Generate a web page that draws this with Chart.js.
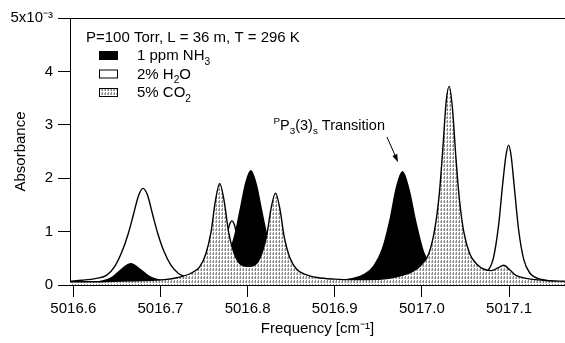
<!DOCTYPE html>
<html>
<head>
<meta charset="utf-8">
<script src="https://cdn.jsdelivr.net/npm/chart.js@4.4.0/dist/chart.umd.min.js"></script>
<style>
  body { margin: 0; background: #fff; }
</style>
</head>
<body>
<canvas id="spectrum" width="565" height="343"></canvas>
<script>
// absorbance in units of 1e-3, frequency in cm-1
var nh3Freq = [5016.596, 5016.620, 5016.635, 5016.645, 5016.655, 5016.666, 5016.677, 5016.687, 5016.697, 5016.710,
  5016.730, 5016.750, 5016.765, 5016.775, 5016.785, 5016.792, 5016.798, 5016.8037, 5016.810, 5016.816,
  5016.823, 5016.832, 5016.845, 5016.860, 5016.880, 5016.900, 5016.920, 5016.935, 5016.945, 5016.955,
  5016.963, 5016.971, 5016.9777, 5016.985, 5016.993, 5017.002, 5017.012, 5017.025, 5017.040, 5017.060,
  5017.085, 5017.110, 5017.164];
var nh3Abs = [0.02, 0.04, 0.08, 0.15, 0.29, 0.40, 0.29, 0.16, 0.10, 0.07,
  0.07, 0.13, 0.25, 0.46, 0.91, 1.45, 1.92, 2.14, 1.88, 1.40,
  0.87, 0.48, 0.22, 0.12, 0.08, 0.08, 0.12, 0.21, 0.36, 0.69,
  1.19, 1.84, 2.12, 1.80, 1.18, 0.61, 0.32, 0.16, 0.09, 0.05,
  0.03, 0.02, 0.01];

var h2oFreq = [5016.596, 5016.610, 5016.625, 5016.638, 5016.648, 5016.656, 5016.663, 5016.669, 5016.675, 5016.680,
  5016.685, 5016.691, 5016.697, 5016.704, 5016.712, 5016.721, 5016.731, 5016.742, 5016.752, 5016.760,
  5016.767, 5016.772, 5016.776, 5016.779, 5016.782, 5016.785, 5016.788, 5016.792, 5016.797, 5016.804,
  5016.815, 5016.830, 5016.850, 5016.880, 5016.920, 5016.960, 5017.000, 5017.030, 5017.050, 5017.065,
  5017.075, 5017.082, 5017.088, 5017.093, 5017.0965, 5017.0994, 5017.1023, 5017.106, 5017.111, 5017.117,
  5017.124, 5017.132, 5017.142, 5017.164];
var h2oAbs = [0.07, 0.09, 0.12, 0.18, 0.36, 0.63, 0.96, 1.32, 1.68, 1.81,
  1.69, 1.32, 0.96, 0.63, 0.37, 0.21, 0.15, 0.14, 0.15, 0.19,
  0.34, 0.60, 0.91, 1.12, 1.20, 1.12, 0.90, 0.59, 0.33, 0.17,
  0.10, 0.07, 0.06, 0.05, 0.05, 0.05, 0.05, 0.07, 0.09, 0.14,
  0.25, 0.50, 1.12, 1.94, 2.43, 2.62, 2.43, 1.84, 1.03, 0.47,
  0.22, 0.13, 0.09, 0.05];

var co2Freq = [5016.596, 5016.620, 5016.645, 5016.670, 5016.690, 5016.705, 5016.720, 5016.735, 5016.745, 5016.752,
  5016.758, 5016.763, 5016.768, 5016.773, 5016.778, 5016.783, 5016.790, 5016.800, 5016.810, 5016.817,
  5016.822, 5016.827, 5016.832, 5016.837, 5016.842, 5016.848, 5016.856, 5016.866, 5016.880, 5016.900,
  5016.920, 5016.940, 5016.960, 5016.975, 5016.990, 5017.000, 5017.008, 5017.015, 5017.020, 5017.024,
  5017.028, 5017.0313, 5017.035, 5017.039, 5017.043, 5017.048, 5017.055, 5017.063, 5017.072, 5017.080,
  5017.087, 5017.094, 5017.101, 5017.108, 5017.118, 5017.130, 5017.145, 5017.164];
var co2Abs = [0.06, 0.06, 0.07, 0.08, 0.09, 0.10, 0.14, 0.22, 0.34, 0.58,
  0.99, 1.57, 1.90, 1.58, 1.01, 0.67, 0.42, 0.35, 0.40, 0.62,
  0.93, 1.44, 1.72, 1.43, 0.90, 0.53, 0.30, 0.20, 0.14, 0.11,
  0.10, 0.10, 0.12, 0.17, 0.26, 0.39, 0.59, 1.07, 1.71, 2.55,
  3.46, 3.72, 3.32, 2.39, 1.61, 1.00, 0.58, 0.39, 0.29, 0.27,
  0.32, 0.37, 0.28, 0.18, 0.13, 0.10, 0.08, 0.07];

var xTicks = [5016.6, 5016.7, 5016.8, 5016.9, 5017.0, 5017.1];
var yTicks = [0, 1, 2, 3, 4, 5];

var conditions = 'P=100 Torr, L = 36 m, T = 296 K';
var legendParts = [
  [['1 ppm NH', ''], ['3', 'sub']],
  [['2% H', ''], ['2', 'sub'], ['O', '']],
  [['5% CO', ''], ['2', 'sub']]
];
var noteParts = [['P', 'sup'], ['P', ''], ['3', 'sub'], ['(3)', ''], ['s', 'sub'], [' Transition', '']];
var noteAt = [5016.9576, 2.90];
var arrowFrom = [5016.960, 2.77];
var arrowTo = [5016.9726, 2.30];

var FONT = '"Liberation Sans", Arial, sans-serif';
var canvas = document.getElementById('spectrum');

// gray vertical hatching used for the CO2 area
function stipple() {
  var c = document.createElement('canvas');
  c.width = 3; c.height = 4;
  var g = c.getContext('2d');
  g.fillStyle = '#fff'; g.fillRect(0, 0, 3, 4);
  g.fillStyle = '#8a8a8a'; g.fillRect(0, 0, 1, 3);
  g.fillStyle = '#bbbbbb'; g.fillRect(2, 1, 1, 2);
  return canvas.getContext('2d').createPattern(c, 'repeat');
}

function toPoints(xs, ys) {
  return xs.map(function(x, i) { return {x: x, y: ys[i]}; });
}

function richWidth(ctx, parts, size) {
  var w = 0;
  parts.forEach(function(p) {
    ctx.font = (p[1] ? size * 0.68 : size) + 'px ' + FONT;
    w += ctx.measureText(p[0]).width;
  });
  return w;
}

function drawRich(ctx, parts, x, y, size) {
  parts.forEach(function(p) {
    ctx.font = (p[1] ? size * 0.68 : size) + 'px ' + FONT;
    var dy = p[1] === 'sub' ? size * 0.3 : p[1] === 'sup' ? -size * 0.42 : 0;
    ctx.fillText(p[0], x, y + dy);
    x += ctx.measureText(p[0]).width;
  });
}

var co2Fill = stipple();

var overlay = {
  id: 'overlay',
  afterDraw: function(chart) {
    var ctx = chart.ctx, a = chart.chartArea;
    var sx = chart.scales.x, sy = chart.scales.y;
    ctx.save();
    ctx.strokeStyle = '#000';
    ctx.lineWidth = 1;
    // top edge of the frame
    ctx.beginPath();
    ctx.moveTo(a.left, a.top + 0.5);
    ctx.lineTo(a.right, a.top + 0.5);
    ctx.stroke();

    // legend
    ctx.fillStyle = '#000';
    ctx.textBaseline = 'alphabetic';
    drawRich(ctx, [[conditions, '']], a.left + 16, a.top + 24, 15);
    legendParts.forEach(function(parts, i) {
      var yb = a.top + 42 + i * 18.5;
      var ds = chart.data.datasets[i];
      var x0 = a.left + 29, y0 = yb - 9;
      ctx.fillStyle = ds.backgroundColor;
      ctx.fillRect(x0, y0, 19, 9);
      ctx.strokeRect(x0 + 0.5, y0 + 0.5, 18, 8);
      ctx.fillStyle = '#000';
      drawRich(ctx, parts, a.left + 67, yb, 15);
    });

    // transition label and arrow
    var tx = sx.getPixelForValue(noteAt[0]), ty = sy.getPixelForValue(noteAt[1]);
    drawRich(ctx, noteParts, tx - richWidth(ctx, noteParts, 14.5), ty, 14.5);
    var x1 = sx.getPixelForValue(arrowFrom[0]), y1 = sy.getPixelForValue(arrowFrom[1]);
    var x2 = sx.getPixelForValue(arrowTo[0]), y2 = sy.getPixelForValue(arrowTo[1]);
    var ang = Math.atan2(y2 - y1, x2 - x1);
    ctx.beginPath();
    ctx.moveTo(x1, y1);
    ctx.lineTo(x2 - 5 * Math.cos(ang), y2 - 5 * Math.sin(ang));
    ctx.stroke();
    ctx.beginPath();
    ctx.moveTo(x2, y2);
    ctx.lineTo(x2 - 8 * Math.cos(ang) + 2.6 * Math.sin(ang), y2 - 8 * Math.sin(ang) - 2.6 * Math.cos(ang));
    ctx.lineTo(x2 - 8 * Math.cos(ang) - 2.6 * Math.sin(ang), y2 - 8 * Math.sin(ang) + 2.6 * Math.cos(ang));
    ctx.closePath();
    ctx.fill();
    ctx.restore();
  }
};

new Chart(canvas, {
  type: 'line',
  data: {
    datasets: [
      { label: '1 ppm NH₃', data: toPoints(nh3Freq, nh3Abs), borderColor: '#000', backgroundColor: '#000', fill: 'origin', order: 2 },
      { label: '2% H₂O', data: toPoints(h2oFreq, h2oAbs), borderColor: '#000', backgroundColor: '#fff', fill: 'origin', order: 3 },
      { label: '5% CO₂', data: toPoints(co2Freq, co2Abs), borderColor: '#000', backgroundColor: co2Fill, fill: 'origin', order: 1 }
    ]
  },
  options: {
    responsive: false,
    animation: false,
    devicePixelRatio: 1,
    layout: { autoPadding: false, padding: { left: 0, right: 0, top: 18, bottom: 0 } },
    elements: {
      point: { radius: 0 },
      line: { borderWidth: 1.4, cubicInterpolationMode: 'monotone' }
    },
    plugins: { legend: { display: false }, tooltip: { enabled: false } },
    scales: {
      x: {
        type: 'linear',
        min: 5016.5962,
        max: 5017.1642,
        afterBuildTicks: function(s) { s.ticks = xTicks.map(function(v) { return {value: v}; }); },
        afterFit: function(s) { s.height = 58; },
        grid: { drawOnChartArea: false, tickLength: 12, color: '#000', lineWidth: 1 },
        border: { color: '#000', width: 1 },
        ticks: {
          color: '#000', padding: 3, maxRotation: 0, autoSkip: false,
          font: { family: FONT, size: 15 },
          callback: function(v) { return v.toFixed(1); }
        },
        title: { display: true, text: 'Frequency [cm⁻¹]', color: '#000', padding: { top: 0, bottom: 5 }, font: { family: FONT, size: 15 } }
      },
      y: {
        min: 0,
        max: 5,
        afterBuildTicks: function(s) { s.ticks = yTicks.map(function(v) { return {value: v}; }); },
        afterFit: function(s) { s.width = 70; },
        grid: { drawOnChartArea: false, tickLength: 12, color: '#000', lineWidth: 1 },
        border: { color: '#000', width: 1 },
        ticks: {
          color: '#000', padding: 5,
          font: { family: FONT, size: 15 },
          callback: function(v) { return v === 5 ? '5x10⁻³' : String(v); }
        },
        title: { display: true, text: 'Absorbance', color: '#000', padding: { top: 12, bottom: 0 }, font: { family: FONT, size: 15 } }
      }
    }
  },
  plugins: [overlay]
});
</script>
</body>
</html>
